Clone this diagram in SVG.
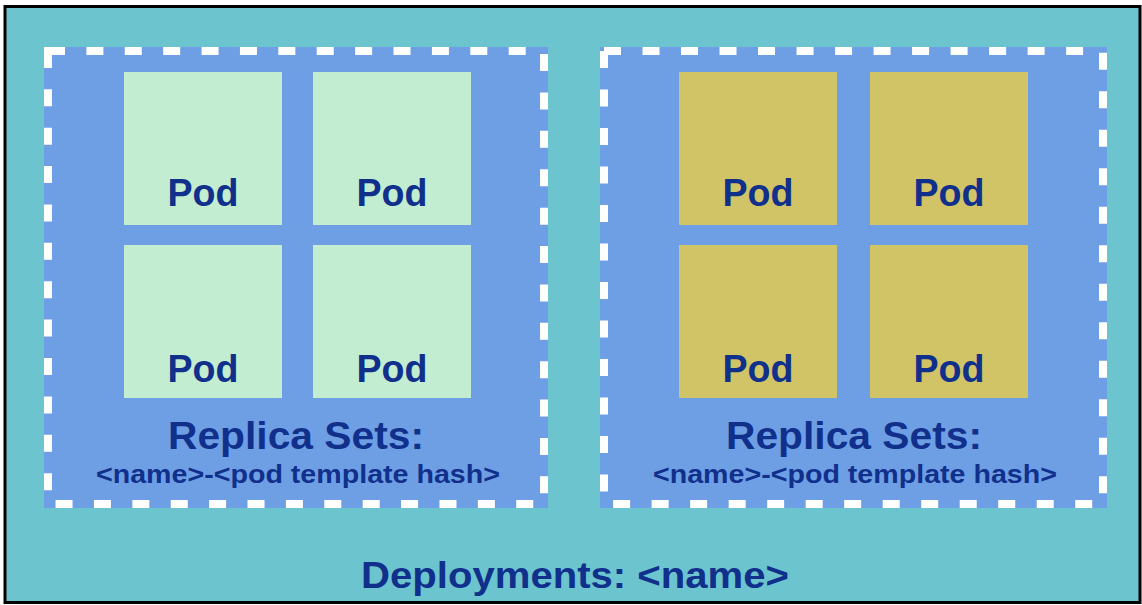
<svg xmlns="http://www.w3.org/2000/svg" width="1142" height="605" viewBox="0 0 1142 605">
<style>
.bg{fill:#6CC4CE;stroke:#000;stroke-width:3}
.rsfill{fill:#6E9FE4}
.rsdash{fill:none;stroke:#FFFFFF;stroke-width:8}
.podA{fill:#C3EDD0}
.podB{fill:#D1C466}
text{font-family:"Liberation Sans",Arial,sans-serif;font-weight:bold;fill:#10308C;text-anchor:middle}
.pod{font-size:39px}
.rs{font-size:38px}
.sub{font-size:25px}
.dep{font-size:37px}
</style>
<rect class="bg" x="5" y="6.5" width="1135" height="596"/>
<g id="replicaset-left">
<rect class="rsfill" x="44" y="47" width="504" height="461"/>
<rect class="rsdash" x="48" y="51" width="496" height="453" stroke-dasharray="17 21.39"/>
<text class="rs" x="296" y="449" textLength="256" lengthAdjust="spacingAndGlyphs">Replica Sets:</text>
<text class="sub" x="298" y="483" textLength="404" lengthAdjust="spacingAndGlyphs">&lt;name&gt;-&lt;pod template hash&gt;</text>
</g>
<g id="pod-l1"><rect class="podA" x="124" y="72" width="158" height="153"/><text class="pod" x="203" y="206" textLength="71" lengthAdjust="spacingAndGlyphs">Pod</text></g>
<g id="pod-l2"><rect class="podA" x="313" y="72" width="158" height="153"/><text class="pod" x="392" y="206" textLength="71" lengthAdjust="spacingAndGlyphs">Pod</text></g>
<g id="pod-l3"><rect class="podA" x="124" y="245" width="158" height="153"/><text class="pod" x="203" y="382" textLength="71" lengthAdjust="spacingAndGlyphs">Pod</text></g>
<g id="pod-l4"><rect class="podA" x="313" y="245" width="158" height="153"/><text class="pod" x="392" y="382" textLength="71" lengthAdjust="spacingAndGlyphs">Pod</text></g>
<g id="replicaset-right">
<rect class="rsfill" x="600" y="47" width="507" height="461"/>
<rect class="rsdash" x="604" y="51" width="499" height="453" stroke-dasharray="17 21.51"/>
<text class="rs" x="854" y="449" textLength="256" lengthAdjust="spacingAndGlyphs">Replica Sets:</text>
<text class="sub" x="855" y="483" textLength="404" lengthAdjust="spacingAndGlyphs">&lt;name&gt;-&lt;pod template hash&gt;</text>
</g>
<g id="pod-r1"><rect class="podB" x="679" y="72" width="158" height="153"/><text class="pod" x="758" y="206" textLength="71" lengthAdjust="spacingAndGlyphs">Pod</text></g>
<g id="pod-r2"><rect class="podB" x="870" y="72" width="158" height="153"/><text class="pod" x="949" y="206" textLength="71" lengthAdjust="spacingAndGlyphs">Pod</text></g>
<g id="pod-r3"><rect class="podB" x="679" y="245" width="158" height="153"/><text class="pod" x="758" y="382" textLength="71" lengthAdjust="spacingAndGlyphs">Pod</text></g>
<g id="pod-r4"><rect class="podB" x="870" y="245" width="158" height="153"/><text class="pod" x="949" y="382" textLength="71" lengthAdjust="spacingAndGlyphs">Pod</text></g>
<g id="deployment-label"><text class="dep" x="575" y="588" textLength="428" lengthAdjust="spacingAndGlyphs">Deployments: &lt;name&gt;</text></g>
<g id="connectors"/>
</svg>
